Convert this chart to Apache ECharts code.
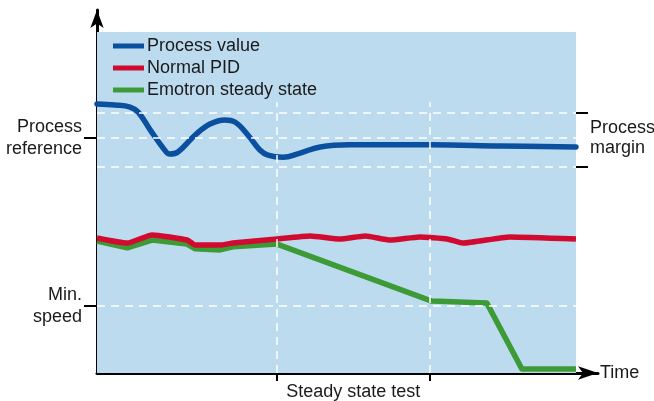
<!DOCTYPE html>
<html>
<head>
<meta charset="utf-8">
<script src="https://cdn.jsdelivr.net/npm/echarts@6/dist/echarts.min.js"></script>
<style>html,body{margin:0;padding:0;background:#fff}#c{width:654px;height:401px}</style>
</head>
<body>
<div id="c"></div>
<script>
// ---- data (x: time units 0..100 over the plotted period, y: level units 0..100) ----
const seriesNames = ['Process value', 'Normal PID', 'Emotron steady state'];
const processValue = [
  [0, 78.9], [3.8, 78.6], [6.9, 78.0], [8.6, 76.5], [11.1, 71.3], [13.8, 66.0],
  [15.2, 64.2], [16.9, 64.8], [20.5, 69.8], [23.6, 73.0], [26.7, 74.2], [28.8, 73.6],
  [31.5, 69.8], [34.0, 65.4], [35.7, 63.9], [38.8, 63.3], [42.4, 64.5], [46.6, 66.3],
  [52.8, 66.9], [69.5, 66.9], [84.1, 66.6], [100, 66.3]
];
const normalPID = [
  [0, 39.6], [6.3, 38.1], [11.5, 40.5], [18.8, 39.0], [20.5, 37.5], [25.7, 37.5],
  [28.4, 38.1], [37.6, 39.3], [44.5, 40.2], [50.7, 39.3], [56.0, 40.2], [61.2, 39.0],
  [67.4, 39.9], [73.1, 39.3], [76.4, 38.1], [86.2, 39.9], [100, 39.3]
];
const emotronSteady = [
  [0, 38.7], [6.3, 36.7], [11.5, 39.0], [18.8, 37.8], [20.5, 36.4], [25.7, 36.1],
  [28.4, 37.0], [37.6, 37.8], [69.9, 21.1], [81.4, 20.5], [88.7, 1.2], [100, 1.2]
];
// y reference levels and labels
const yTickValues = [19.6, 68.9];
const yTickLabels = ['Min.\nspeed', 'Process\nreference'];
const marginValues = [60.4, 76.2];
const marginLabelValue = 68.9;
const marginLabel = 'Process\nmargin';
// x test markers and labels
const xTickValues = [37.6, 69.5];
const xLabelValue = 53.5;
const xLabel = 'Steady state test';
const xName = 'Time';
// extents
const xPlotEnd = 100, yPlotTop = 100, xAxisMax = 104.6, yAxisMax = 106.45, vLineTop = 79.5;

const FONT = 'Liberation Sans';
const FS = 18;
const TXT = '#1a1a1a';
const dash = {color: '#ffffff', type: [8, 6], width: 1.5};

const hLines = [yTickValues[0], yTickValues[1], marginValues[0], marginValues[1]].map(v =>
  [{coord: [0, v]}, {coord: [xPlotEnd, v]}]);
const vLines = xTickValues.map(v => [{coord: [v, 0]}, {coord: [v, vLineTop]}]);

const chart = echarts.init(document.getElementById('c'), null, {renderer: 'canvas'});
chart.setOption({
  animation: false,
  backgroundColor: '#ffffff',
  grid: {left: 97, right: 56, top: 10, bottom: 28, outerBoundsMode: 'none'},
  legend: {
    data: seriesNames,
    orient: 'vertical',
    left: 113, top: 35, padding: 0,
    icon: 'rect', itemWidth: 31, itemHeight: 5, itemGap: 0,
    textStyle: {fontFamily: FONT, fontSize: FS, color: TXT, lineHeight: 22, padding: [0, 0, 0, -2]}
  },
  xAxis: {
    type: 'value', min: 0, max: xAxisMax,
    name: xName, nameLocation: 'end', nameGap: 2,
    nameTextStyle: {fontFamily: FONT, fontSize: FS, color: TXT},
    axisLine: {show: true, lineStyle: {color: '#000', width: 3}, symbol: ['none', 'arrow'], symbolSize: [10, 20]},
    axisTick: {show: true, customValues: xTickValues, length: 8, lineStyle: {color: '#000', width: 2}},
    axisLabel: {customValues: [xLabelValue], formatter: () => xLabel, margin: 10,
      fontFamily: FONT, fontSize: FS, color: TXT},
    splitLine: {show: false}
  },
  yAxis: [{
    type: 'value', min: 0, max: yAxisMax,
    axisLine: {show: true, lineStyle: {color: '#000', width: 3}, symbol: ['none', 'arrow'], symbolSize: [10, 18]},
    axisTick: {show: true, customValues: yTickValues, length: 13, lineStyle: {color: '#000', width: 2}},
    axisLabel: {customValues: yTickValues, formatter: v => yTickLabels[yTickValues.indexOf(v)],
      margin: 15, align: 'right', lineHeight: 22, fontFamily: FONT, fontSize: FS, color: TXT},
    splitLine: {show: false}
  }, {
    type: 'value', min: 0, max: yAxisMax, position: 'right', offset: -22,
    axisLine: {show: false},
    axisTick: {show: true, customValues: marginValues, length: 12, lineStyle: {color: '#000', width: 2}},
    axisLabel: {customValues: [marginLabelValue], formatter: () => marginLabel,
      margin: 14, align: 'left', lineHeight: 20, fontFamily: FONT, fontSize: FS, color: TXT},
    splitLine: {show: false}
  }],
  series: [
    {
      name: 'bg', type: 'line', data: [], z: 0, silent: true,
      markArea: {silent: true, itemStyle: {color: '#bcdbef'}, data: [[{coord: [0, 0]}, {coord: [xPlotEnd, yPlotTop]}]]}
    },
    {
      name: 'gridlines', type: 'line', data: [], z: 1, silent: true,
      markLine: {silent: true, symbol: ['none', 'none'], label: {show: false}, lineStyle: dash,
        data: hLines.concat(vLines)}
    },
    {
      name: seriesNames[0], type: 'line', data: processValue, smooth: 0.4, showSymbol: false, z: 3,
      lineStyle: {color: '#0b4f9f', width: 5.5, cap: 'round', join: 'round'}, itemStyle: {color: '#0b4f9f'}
    },
    {
      name: seriesNames[1], type: 'line', data: normalPID, smooth: 0.15, showSymbol: false, z: 3,
      lineStyle: {color: '#d10a2f', width: 5.5, join: 'round'}, itemStyle: {color: '#d10a2f'}
    },
    {
      name: seriesNames[2], type: 'line', data: emotronSteady, showSymbol: false, z: 2,
      lineStyle: {color: '#3c9b37', width: 5.5, join: 'round'}, itemStyle: {color: '#3c9b37'}
    }
  ]
});
</script>
</body>
</html>
